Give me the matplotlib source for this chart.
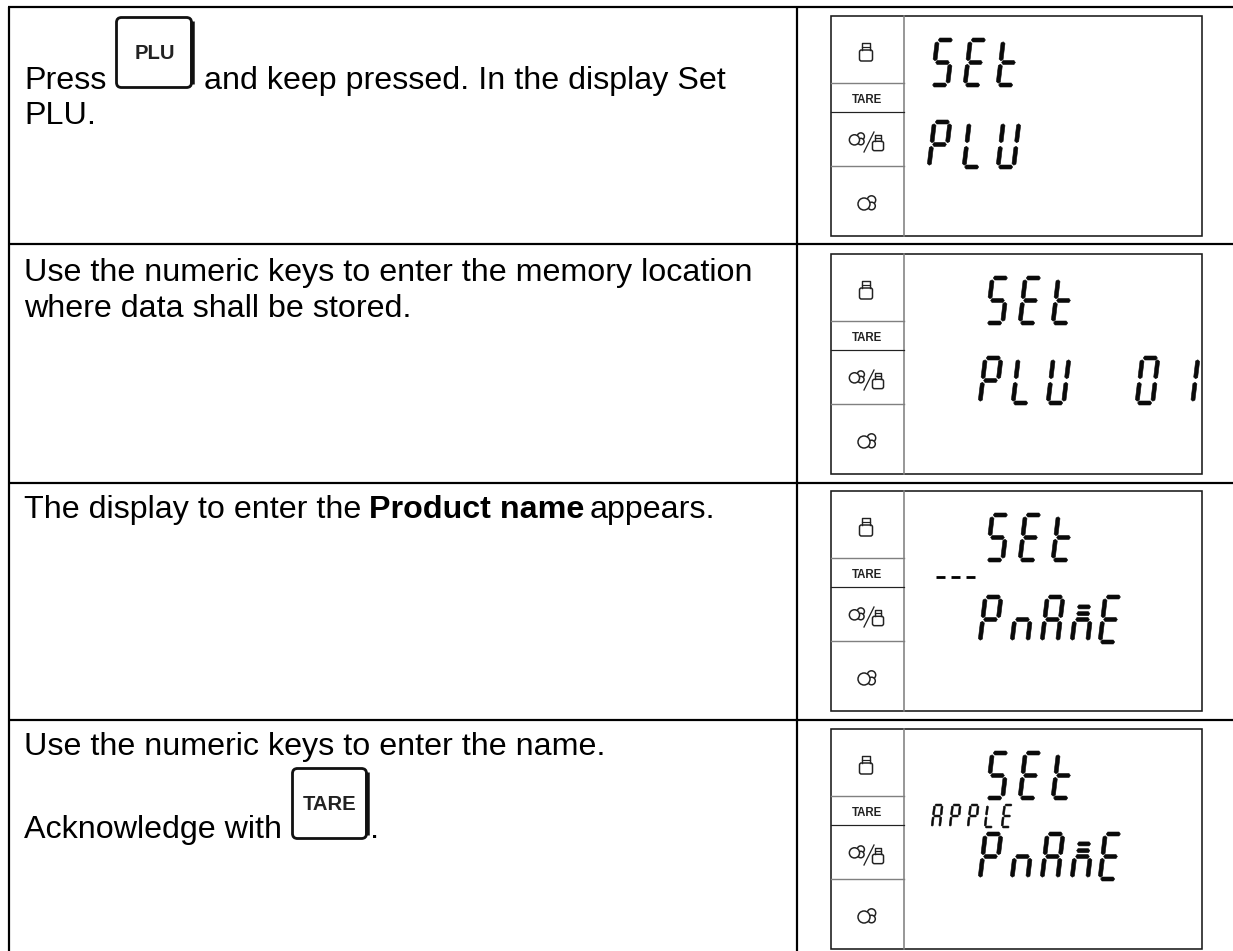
import numpy as np
import matplotlib
matplotlib.use("Agg")
import matplotlib.pyplot as plt
from matplotlib.patches import Rectangle, FancyBboxPatch, Circle, Polygon

plt.rcParams['font.family'] = ['Liberation Sans', 'DejaVu Sans']

W, H = 1233, 951
px = 72 / 100.   # pixels to points at dpi 100

# table grid
table_left = 9
table_mid = 797
row_lines = [7, 244, 483, 720]

# left column text
text_items = [
    ("Press", 24, 89, "normal"),
    ("and keep pressed. In the display Set", 204, 89, "normal"),
    ("PLU.", 24, 124, "normal"),
    ("Use the numeric keys to enter the memory location", 24, 281, "normal"),
    ("where data shall be stored.", 24, 317, "normal"),
    ("The display to enter the", 24, 518, "normal"),
    ("Product name", 369, 518, "bold"),
    ("appears.", 590, 518, "normal"),
    ("Use the numeric keys to enter the name.", 24, 755, "normal"),
    ("Acknowledge with", 24, 838, "normal"),
    (".", 370, 838, "normal"),
]

# key buttons: label, left, top, right, bottom
keys = [("PLU", 115, 16, 194, 89), ("TARE", 291, 767, 369, 840)]

# LCD boxes
lcd_tops = [16, 254, 491, 729]
lcd_left, lcd_div, lcd_right = 831, 904, 1202
lcd_height = 220

# seven segment rows: box, chars, left of each char, top offset, height
seg_rows = [
    (0, "SEt", [932, 965, 998], 24, 45),
    (0, "PLU", [929, 964, 998], 106, 45),
    (1, "SEt", [987, 1020, 1053], 24, 45),
    (1, "PLU", [980, 1013, 1048], 104, 45),
    (1, "01", [1137, 1177], 104, 45),
    (2, "SEt", [987, 1020, 1053], 24, 45),
    (2, "PnAmE", [980, 1012, 1042, 1072, 1100], 106, 45),
    (3, "SEt", [987, 1020, 1053], 24, 45),
    (3, "PnAmE", [980, 1012, 1042, 1072, 1100], 105, 45),
]
small_rows = [(3, "APPLE", [932, 950, 968, 985, 1002], 76, 22)]
dash_xs = [936, 951, 966]
dash_y = 577

segs = {
    'a': ((.06, 0), (.98, 0)),
    'b': ((1.02, .04), (1.02, .46)),
    'c': ((1.02, .54), (1.02, .96)),
    'd': ((.96, 1), (.04, 1)),
    'e': ((0, .96), (0, .54)),
    'f': ((0, .46), (0, .04)),
    'g': ((.06, .5), (.96, .5)),
    'h': ((.08, .37), (.94, .37)),
    'i': ((.08, .22), (.94, .22)),
}
glyphs = {
    'S': 'afgcd', 'E': 'afged', 't': 'fged', 'P': 'abfge', 'L': 'fed',
    'U': 'fbecd', '0': 'abcdef', '1': 'bc', 'n': 'gec', 'A': 'abcefg',
    'm': 'gechi',
}


def draw_glyph(ax, ch, x0, top, h, lw):
    w = h * 0.34
    skew = h * 0.12
    for s in glyphs[ch]:
        p, q = segs[s]
        a = np.array([x0 + p[0] * w + (1 - p[1]) * skew, top + p[1] * h])
        b = np.array([x0 + q[0] * w + (1 - q[1]) * skew, top + q[1] * h])
        d = (b - a) / np.hypot(*(b - a))
        n = np.array([-d[1], d[0]]) * lw / 2.
        t = d * lw * 0.35
        pts = [a, a + t + n, b - t + n, b, b - t - n, a + t - n]
        ax.add_patch(Polygon(pts, closed=True, fc='#0a0a0a', ec='#0a0a0a', lw=0.4))


def draw_weight(ax, cx, cy, scale=1.0):
    ax.add_patch(FancyBboxPatch((cx - 6.5 * scale, cy - 2 * scale), 13 * scale, 11 * scale,
                                boxstyle="round,pad=0,rounding_size=2",
                                fc='w', ec='#222222', lw=1.5 * px))
    ax.plot([cx - 4 * scale, cx - 4 * scale, cx + 4 * scale, cx + 4 * scale],
            [cy - 2 * scale, cy - 9 * scale, cy - 9 * scale, cy - 2 * scale], color='#222222', lw=1.4 * px)
    ax.plot([cx - 4 * scale, cx + 4 * scale], [cy - 5.5 * scale, cy - 5.5 * scale], color='#222222', lw=1.2 * px)


def draw_fruit(ax, cx, cy, scale=1.0):
    for dx, dy, r in [(4.5, -3, 4.2), (4.5, 3, 3.8), (-3, 1, 6)]:
        ax.add_patch(Circle((cx + dx * scale, cy + dy * scale), r * scale, fc='w', ec='#222222', lw=1.5 * px))


fig = plt.figure(figsize=(W / 100., H / 100.), dpi=100)
ax = fig.add_axes([0, 0, 1, 1])
ax.set_xlim(0, W)
ax.set_ylim(H, 0)
ax.axis('off')

# table lines
for y in row_lines:
    ax.plot([table_left - 1, W], [y, y], color='k', lw=2.2 * px, solid_capstyle='butt')
ax.plot([table_left, table_left], [row_lines[0], H], color='k', lw=2.2 * px, solid_capstyle='butt')
ax.plot([table_mid, table_mid], [row_lines[0], H], color='k', lw=2.2 * px, solid_capstyle='butt')

for txt, x, y, weight in text_items:
    ax.text(x, y, txt, fontsize=23.2, fontweight=weight, ha='left', va='baseline', color='k')

for label, l, t, r, b in keys:
    ax.add_patch(FancyBboxPatch((l + 1.5, t + 1.5), r - l - 4, b - t - 3, boxstyle="round,pad=0,rounding_size=5",
                                fc='w', ec='#111111', lw=2.8 * px))
    ax.plot([r - 2, r - 2], [t + 5, b - 5], color='#111111', lw=4.5 * px, solid_capstyle='butt')
    ax.text((l + r) / 2., (t + b) / 2. + 1, label, fontsize=14.6, fontweight='bold', ha='center', va='center', color='#222222')

for top in lcd_tops:
    ax.add_patch(Rectangle((lcd_left, top), lcd_right - lcd_left, lcd_height, fc='w', ec='#1a1a1a', lw=1.6 * px))
    ax.plot([lcd_div, lcd_div], [top, top + lcd_height], color='#808080', lw=1.6 * px)
    ax.plot([lcd_left, lcd_div], [top + 67, top + 67], color='#808080', lw=1.4 * px)
    ax.plot([lcd_left, lcd_div], [top + 96, top + 96], color='#222222', lw=1.2 * px)
    ax.plot([lcd_left, lcd_div], [top + 150, top + 150], color='#808080', lw=1.4 * px)
    ax.text(867, top + 84, "TARE", fontsize=8.3, fontweight='bold', ha='center', va='center', color='#222222')
    draw_weight(ax, 866, top + 36)
    draw_fruit(ax, 857, top + 123, 0.85)
    ax.plot([864, 874], [top + 136, top + 116], color='#222222', lw=1.3 * px)
    draw_weight(ax, 878, top + 127, 0.85)
    draw_fruit(ax, 867, top + 187)

for box, chars, xs, off, h in seg_rows:
    for ch, x in zip(chars, xs):
        draw_glyph(ax, ch, x, lcd_tops[box] + off, h, 4.0)
for box, chars, xs, off, h in small_rows:
    for ch, x in zip(chars, xs):
        draw_glyph(ax, ch, x, lcd_tops[box] + off, h, 1.9)
for x in dash_xs:
    ax.plot([x, x + 9], [dash_y, dash_y], color='k', lw=2.8 * px, solid_capstyle='butt')

fig.savefig("out.png", dpi=100)
